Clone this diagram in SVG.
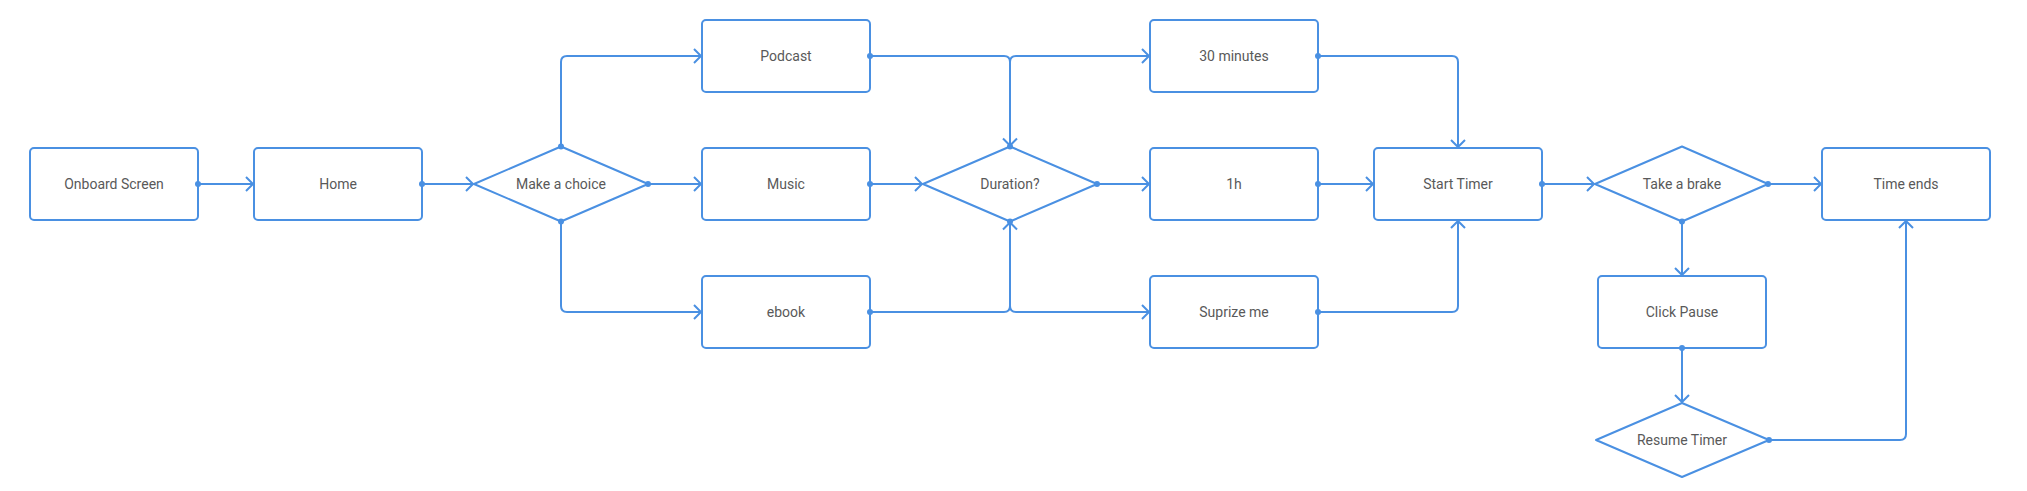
<svg xmlns="http://www.w3.org/2000/svg" width="2027" height="491" viewBox="0 0 2027 491">
<style>
.n{fill:#fff;stroke:#4A90E2;stroke-width:2}
.t{font-family:Roboto,"Liberation Sans",sans-serif;font-size:14px;fill:#595959;text-anchor:middle;dominant-baseline:central}
.c{fill:none;stroke:#4A90E2;stroke-width:2;marker-end:url(#ah)}
.d{fill:#4A90E2}
</style>
<defs>
<marker id="ah" markerUnits="userSpaceOnUse" markerWidth="20" markerHeight="20" refX="0" refY="0" viewBox="-10 -10 20 20" orient="auto" overflow="visible">
<path d="M -7 -7 L 0 0 L -7 7" fill="none" stroke="#4A90E2" stroke-width="2"/>
</marker>
</defs>
<rect width="2027" height="491" fill="#fff"/>
<g id="onboard"><rect class="n" x="30" y="148" width="168" height="72" rx="4"/><text class="t" x="114" y="184">Onboard Screen</text></g>
<g id="home"><rect class="n" x="254" y="148" width="168" height="72" rx="4"/><text class="t" x="338" y="184">Home</text></g>
<g id="choice"><path class="n" stroke-linejoin="round" d="M474 184 L561 146.5 L648 184 L561 221.5 Z"/><text class="t" x="561" y="184">Make a choice</text></g>
<g id="podcast"><rect class="n" x="702" y="20" width="168" height="72" rx="4"/><text class="t" x="786" y="56">Podcast</text></g>
<g id="music"><rect class="n" x="702" y="148" width="168" height="72" rx="4"/><text class="t" x="786" y="184">Music</text></g>
<g id="ebook"><rect class="n" x="702" y="276" width="168" height="72" rx="4"/><text class="t" x="786" y="312">ebook</text></g>
<g id="duration"><path class="n" stroke-linejoin="round" d="M923 184 L1010 146.5 L1097 184 L1010 221.5 Z"/><text class="t" x="1010" y="184">Duration?</text></g>
<g id="min30"><rect class="n" x="1150" y="20" width="168" height="72" rx="4"/><text class="t" x="1234" y="56">30 minutes</text></g>
<g id="h1"><rect class="n" x="1150" y="148" width="168" height="72" rx="4"/><text class="t" x="1234" y="184">1h</text></g>
<g id="suprize"><rect class="n" x="1150" y="276" width="168" height="72" rx="4"/><text class="t" x="1234" y="312">Suprize me</text></g>
<g id="start"><rect class="n" x="1374" y="148" width="168" height="72" rx="4"/><text class="t" x="1458" y="184">Start Timer</text></g>
<g id="brake"><path class="n" stroke-linejoin="round" d="M1595 184 L1682 146.5 L1768 184 L1682 221.5 Z"/><text class="t" x="1682" y="184">Take a brake</text></g>
<g id="ends"><rect class="n" x="1822" y="148" width="168" height="72" rx="4"/><text class="t" x="1906" y="184">Time ends</text></g>
<g id="pause"><rect class="n" x="1598" y="276" width="168" height="72" rx="4"/><text class="t" x="1682" y="312">Click Pause</text></g>
<g id="resume"><path class="n" stroke-linejoin="round" d="M1596 440 L1682 403 L1769 440 L1682 477 Z"/><text class="t" x="1682" y="440">Resume Timer</text></g>
<g id="connectors">
<path class="c" d="M198 184 H253"/>
<path class="c" d="M422 184 H473"/>
<path class="c" d="M561 146.5 V62 Q561 56 567 56 H701"/>
<path class="c" d="M648 184 H701"/>
<path class="c" d="M561 221.5 V306 Q561 312 567 312 H701"/>
<path class="c" d="M870 56 H1004 Q1010 56 1010 62 V145.5"/>
<path class="c" d="M870 184 H922"/>
<path class="c" d="M870 312 H1004 Q1010 312 1010 306 V222.5"/>
<path class="c" d="M1010 146.5 V62 Q1010 56 1016 56 H1149"/>
<path class="c" d="M1097 184 H1149"/>
<path class="c" d="M1010 221.5 V306 Q1010 312 1016 312 H1149"/>
<path class="c" d="M1318 56 H1452 Q1458 56 1458 62 V147"/>
<path class="c" d="M1318 184 H1373"/>
<path class="c" d="M1318 312 H1452 Q1458 312 1458 306 V221"/>
<path class="c" d="M1542 184 H1594"/>
<path class="c" d="M1768 184 H1821"/>
<path class="c" d="M1682 221.5 V275"/>
<path class="c" d="M1682 348 V402"/>
<path class="c" d="M1769 440 H1900 Q1906 440 1906 434 V221"/>
<circle class="d" cx="198" cy="184" r="3"/>
<circle class="d" cx="422" cy="184" r="3"/>
<circle class="d" cx="561" cy="146.5" r="3"/>
<circle class="d" cx="648" cy="184" r="3"/>
<circle class="d" cx="561" cy="221.5" r="3"/>
<circle class="d" cx="870" cy="56" r="3"/>
<circle class="d" cx="870" cy="184" r="3"/>
<circle class="d" cx="870" cy="312" r="3"/>
<circle class="d" cx="1010" cy="146.5" r="3"/>
<circle class="d" cx="1097" cy="184" r="3"/>
<circle class="d" cx="1010" cy="221.5" r="3"/>
<circle class="d" cx="1318" cy="56" r="3"/>
<circle class="d" cx="1318" cy="184" r="3"/>
<circle class="d" cx="1318" cy="312" r="3"/>
<circle class="d" cx="1542" cy="184" r="3"/>
<circle class="d" cx="1768" cy="184" r="3"/>
<circle class="d" cx="1682" cy="221.5" r="3"/>
<circle class="d" cx="1682" cy="348" r="3"/>
<circle class="d" cx="1769" cy="440" r="3"/>
</g>
</svg>
